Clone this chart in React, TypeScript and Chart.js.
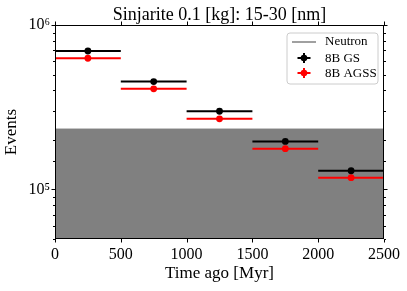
import React, { useEffect, useRef } from "react";
import { Chart, registerables } from "chart.js";

Chart.register(...registerables);

const titleText = "Sinjarite 0.1 [kg]: 15-30 [nm]";
const xTitle = "Time ago [Myr]";
const yTitle = "Events";

const binCenters = [250, 750, 1250, 1750, 2250];
const binHalfWidth = 250;
const gsEvents = [6.95e5, 4.53e5, 2.99e5, 1.96e5, 1.3e5];
const agssEvents = [6.28e5, 4.09e5, 2.69e5, 1.77e5, 1.18e5];
const neutronLevel = 2.33e5;
const xRange = [0, 2500];
const yRange = [5e4, 1e6];

const seriesLabels = ["Neutron", "8B GS", "8B AGSS"];
const FONT = "'Liberation Serif', 'DejaVu Serif', serif";

function errLineData(values: number[]) {
  const out: { x: number; y: number | null }[] = [];
  values.forEach((v, i) => {
    out.push({ x: binCenters[i] - binHalfWidth, y: v });
    out.push({ x: binCenters[i] + binHalfWidth, y: v });
    out.push({ x: binCenters[i] + binHalfWidth, y: null });
  });
  return out;
}

const supers: Record<string, string> = {
  "0": "⁰", "1": "¹", "2": "²", "3": "³", "4": "⁴", "5": "⁵", "6": "⁶", "7": "⁷", "8": "⁸", "9": "⁹",
};

const framePlugin = {
  id: "frame",
  afterDraw(chart: any) {
    const ctx = chart.ctx as CanvasRenderingContext2D;
    const { left, right, top, bottom } = chart.chartArea;
    const xs = chart.scales.x;
    const ys = chart.scales.y;
    ctx.save();
    ctx.strokeStyle = "#000";
    ctx.lineWidth = 1;
    ctx.strokeRect(Math.round(left) + 0.5, Math.round(top) + 0.5, Math.round(right - left) - 1, Math.round(bottom - top) - 1);
    ctx.beginPath();
    xs.ticks.forEach((t: any) => {
      const px = Math.round(xs.getPixelForValue(t.value)) + 0.5;
      ctx.moveTo(px, bottom);
      ctx.lineTo(px, bottom + 3.5);
      ctx.moveTo(px, top);
      ctx.lineTo(px, top - 3.5);
    });
    ys.ticks.forEach((t: any) => {
      const lg = Math.log10(t.value);
      const major = Math.abs(lg - Math.round(lg)) < 1e-9;
      const len = major ? 3.5 : 2;
      const py = Math.round(ys.getPixelForValue(t.value)) + 0.5;
      ctx.moveTo(left, py);
      ctx.lineTo(left - len, py);
      ctx.moveTo(right, py);
      ctx.lineTo(right + len, py);
    });
    ctx.stroke();

    // title
    ctx.fillStyle = "#000";
    ctx.font = `18px ${FONT}`;
    ctx.textAlign = "center";
    ctx.textBaseline = "alphabetic";
    ctx.fillText(titleText, (left + right) / 2, 20);

    // legend
    const bx = right - 97;
    const by = top + 8;
    const bw = 91;
    const bh = 51;
    ctx.beginPath();
    const r = 3;
    ctx.moveTo(bx + r, by);
    ctx.arcTo(bx + bw, by, bx + bw, by + bh, r);
    ctx.arcTo(bx + bw, by + bh, bx, by + bh, r);
    ctx.arcTo(bx, by + bh, bx, by, r);
    ctx.arcTo(bx, by, bx + bw, by, r);
    ctx.closePath();
    ctx.fillStyle = "rgba(255,255,255,0.8)";
    ctx.fill();
    ctx.strokeStyle = "#cccccc";
    ctx.lineWidth = 1;
    ctx.stroke();

    const hx0 = bx + 5;
    const hx1 = bx + 29;
    const hc = (hx0 + hx1) / 2;
    const tx = bx + 38;
    const rows = [by + 9, by + 25, by + 40];
    ctx.font = `13px ${FONT}`;
    ctx.textAlign = "left";
    ctx.textBaseline = "middle";
    ctx.strokeStyle = "#808080";
    ctx.lineWidth = 1.5;
    ctx.beginPath();
    ctx.moveTo(hx0, rows[0]);
    ctx.lineTo(hx1, rows[0]);
    ctx.stroke();
    ctx.fillStyle = "#000";
    ctx.fillText(seriesLabels[0], tx, rows[0]);
    const colors = ["#000000", "#ff0000"];
    [1, 2].forEach((k, i) => {
      const y = rows[k];
      ctx.strokeStyle = colors[i];
      ctx.fillStyle = colors[i];
      ctx.lineWidth = 2;
      ctx.beginPath();
      ctx.moveTo(hc - 6.5, y);
      ctx.lineTo(hc + 6.5, y);
      ctx.moveTo(hc, y - 5);
      ctx.lineTo(hc, y + 5);
      ctx.stroke();
      ctx.beginPath();
      ctx.arc(hc, y, 3.3, 0, Math.PI * 2);
      ctx.fill();
      ctx.fillStyle = "#000";
      ctx.fillText(seriesLabels[k], tx, y + 0.5);
    });
    ctx.restore();
  },
};

export default function App() {
  const ref = useRef<HTMLCanvasElement>(null);
  useEffect(() => {
    if (!ref.current) return;
    const chart = new Chart(ref.current, {
      type: "line",
      data: {
        datasets: [
          {
            label: seriesLabels[1],
            data: binCenters.map((x, i) => ({ x, y: gsEvents[i] })),
            showLine: false,
            pointRadius: 3.4,
            pointBackgroundColor: "#000",
            pointBorderColor: "#000",
            pointBorderWidth: 0,
            order: 1,
          },
          {
            label: seriesLabels[2],
            data: binCenters.map((x, i) => ({ x, y: agssEvents[i] })),
            showLine: false,
            pointRadius: 3.4,
            pointBackgroundColor: "#ff0000",
            pointBorderColor: "#ff0000",
            pointBorderWidth: 0,
            order: 1,
          },
          {
            label: "gs-err",
            data: errLineData(gsEvents),
            borderColor: "#000",
            borderWidth: 2,
            pointRadius: 0,
            spanGaps: false,
            order: 2,
          },
          {
            label: "agss-err",
            data: errLineData(agssEvents),
            borderColor: "#ff0000",
            borderWidth: 2,
            pointRadius: 0,
            spanGaps: false,
            order: 2,
          },
          {
            label: seriesLabels[0],
            data: [
              { x: xRange[0], y: neutronLevel },
              { x: xRange[1], y: neutronLevel },
            ],
            borderColor: "#808080",
            backgroundColor: "#808080",
            borderWidth: 1,
            pointRadius: 0,
            fill: "start",
            order: 10,
          },
        ],
      },
      options: {
        animation: false,
        responsive: false,
        layout: { padding: { top: 25, right: 23, left: 0, bottom: 0 } },
        plugins: {
          legend: { display: false },
          title: { display: false },
          tooltip: { enabled: false },
        },
        scales: {
          x: {
            type: "linear",
            min: xRange[0],
            max: xRange[1],
            grid: { display: false, drawTicks: false },
            border: { display: false },
            ticks: {
              stepSize: 500,
              color: "#000",
              padding: 6,
              maxRotation: 0,
              font: { family: FONT, size: 16 },
              callback(value: any) {
                return String(value);
              },
            },
            title: {
              display: true,
              text: xTitle,
              color: "#000",
              font: { family: FONT, size: 17 },
              padding: { top: 0, bottom: 7 },
            },
            afterFit(scale: any) {
              scale.height = 52;
            },
          },
          y: {
            type: "logarithmic",
            min: yRange[0],
            max: yRange[1],
            grid: { display: false, drawTicks: false },
            border: { display: false },
            ticks: {
              autoSkip: false,
              color: "#000",
              padding: 5,
              font: { family: FONT, size: 16 },
              callback(value: any) {
                const lg = Math.log10(Number(value));
                if (Math.abs(lg - Math.round(lg)) < 1e-9) {
                  return "10" + String(Math.round(lg)).split("").map((c) => supers[c]).join("");
                }
                return "";
              },
            },
            title: {
              display: true,
              text: yTitle,
              color: "#000",
              font: { family: FONT, size: 17 },
              padding: { top: 1, bottom: 0 },
            },
            afterFit(scale: any) {
              scale.width = 55;
            },
          },
        },
      },
      plugins: [framePlugin],
    });
    return () => chart.destroy();
  }, []);
  return (
    <div style={{ position: "absolute", left: 0, top: 0, width: 407, height: 291 }}>
      <canvas ref={ref} width={407} height={291} style={{ width: 407, height: 291 }} />
    </div>
  );
}
